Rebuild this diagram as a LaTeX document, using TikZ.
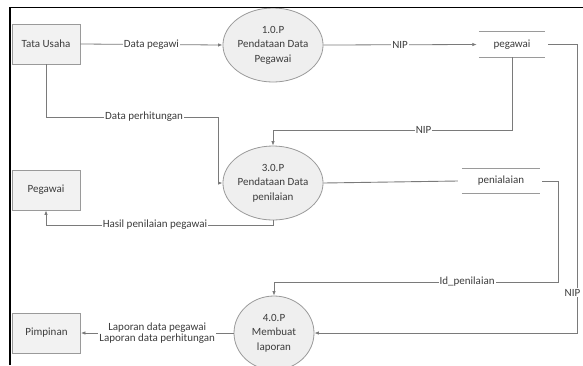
\documentclass[tikz,border=0pt]{standalone}
\usepackage{fontspec}
\setmainfont{Carlito}
\usetikzlibrary{arrows.meta,shapes.geometric}
\definecolor{linegray}{HTML}{7A7A7A}
\definecolor{boxgray}{HTML}{9A9A9A}
\definecolor{boxfill}{HTML}{F2F2F2}
\definecolor{procfill}{HTML}{EFEFEF}
\definecolor{textgray}{HTML}{3C3C3C}
\begin{document}
\begin{tikzpicture}[x=1pt,y=-1pt,
  font=\fontsize{11}{14.5}\selectfont,
  ext/.style={draw=boxgray, fill=boxfill, line width=0.8pt, minimum width=68pt, minimum height=40pt, text=textgray, inner sep=0pt},
  proc/.style={ellipse, draw=boxgray, fill=procfill, line width=0.8pt, minimum width=80pt, minimum height=74pt, align=center, text=textgray, inner sep=0pt},
  store/.style={minimum height=25pt, text=textgray, inner sep=0pt},
  storeline/.style={draw=boxgray, line width=0.8pt},
  flow/.style={draw=linegray, line width=0.8pt, -{Latex[length=4.5pt,width=3.5pt]}},
  plainflow/.style={draw=linegray, line width=0.9pt},
  lbl/.style={fill=white, inner sep=1pt, text=textgray}]
\useasboundingbox (0,0) rectangle (583,365);
\fill[white] (0,0) rectangle (583,365);

% external entities
\node[ext] (TU) at (46,44) {Tata Usaha};
\node[ext] (PG) at (46,190) {Pegawai};
\node[ext] (PM) at (46.5,333) {Pimpinan};

% processes
\node[proc] (P1) at (273,45) {1.0.P\\Pendataan Data\\Pegawai};
\node[proc] (P3) at (273,183) {3.0.P\\Pendataan Data\\penilaian};
\node[proc] (P4) at (274,333) {4.0.P\\Membuat\\laporan};

% data stores
\node[store, minimum width=66pt] (S1) at (512,44.5) {pegawai};
\node[store, minimum width=78pt] (S2) at (501,181) {penialaian};
\draw[storeline] (S1.north west) -- (S1.north east) (S1.south west) -- (S1.south east);
\draw[storeline] (S2.north west) -- (S2.north east) (S2.south west) -- (S2.south east);

% helper coordinates
\coordinate (a1) at (46,117);
\coordinate (a2) at (218,117);
\coordinate (b1) at (512,130);
\coordinate (b2) at (273,130);
\coordinate (c1) at (273,225);
\coordinate (c2) at (46,225);
\coordinate (d1) at (558,181);
\coordinate (d2) at (558,282);
\coordinate (d3) at (274,282);
\coordinate (e1) at (577,44.5);
\coordinate (e2) at (577,333);

% connectors
\draw[flow] (TU.east) -- node[lbl]{Data pegawi} (P1.west);
\draw[flow] (P1.east) -- node[lbl]{NIP} ([xshift=-2pt]S1.west);
\draw[flow] (S1.south) -- (b1) -- node[lbl,pos=0.37]{NIP} (b2) -- (P3.north);
\draw[flow] (TU.south) -- (a1) -- node[lbl,pos=0.57]{Data perhitungan} (a2) |- (P3.west);
\draw[flow] (P3.south) -- (c1) -- node[lbl,pos=0.52]{Hasil penilaian pegawai} (c2) -- (PG.south);
\draw[plainflow] (P3.east) -- ([xshift=-4pt]S2.west);
\draw[flow] ([xshift=2pt]S2.east) -- (d1) -- (d2) -- node[lbl,pos=0.32]{Id\_penilaian} (d3) -- (P4.north);
\draw[flow] ([xshift=3pt]S1.east) -- (e1) -- node[lbl,pos=0.86,xshift=-4.5pt]{NIP} (e2) -- (P4.east);
\draw[flow] (P4.west) -- node[lbl,align=center,font=\fontsize{11}{11.5}\selectfont]{Laporan data pegawai\\Laporan data perhitungan} (PM.east);

% frame
\draw[black, line width=1.6pt] (10,365) -- (10,7.5) -- (583,7.5);
\end{tikzpicture}
\end{document}
